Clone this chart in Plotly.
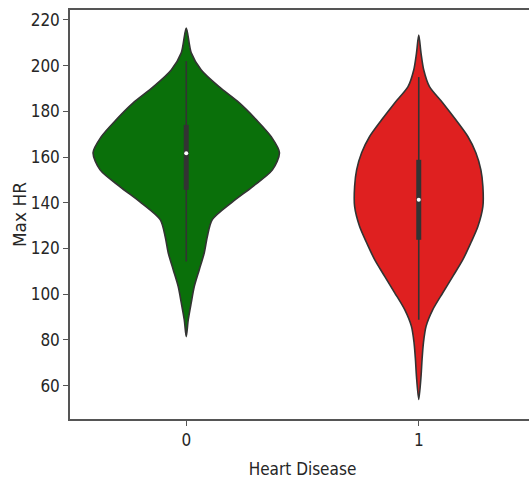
import plotly.graph_objects as go

# ---- data ----
categories = [0, 1]
colors = ["#0a700a", "#df2020"]

# violin profiles: value levels and half-widths (category units)
green_levels = [216.5, 205.6, 198.1, 190.7, 183.7, 176.3, 168.8, 161.9, 154.4, 147.0,
                140.0, 132.6, 125.1, 118.1, 110.7, 103.3, 96.3, 88.8, 81.4]
green_halfw_px = [0, 5, 15, 33, 53, 70, 85, 93, 86, 66, 45, 26, 21, 18, 13, 8, 5, 2, 0]

red_levels = [213.4, 205.4, 198.1, 190.8, 183.7, 176.3, 169.0, 161.9, 154.4, 147.1, 138.4,
              129.6, 122.5, 115.1, 107.8, 100.6, 93.2, 85.9, 78.8, 71.4, 64.1, 53.9]
red_halfw_px = [0, 2.3, 5, 10.7, 24, 37, 49, 57, 62, 64, 64, 59, 52, 44, 34, 24, 14, 7.3,
                4.7, 3.3, 2.3, 0]

# box stats: q1, median, q3, whisker low, whisker high
q1 = [145.7, 123.8]
median = [161.7, 141.3]
q3 = [174.1, 158.8]
whisk_lo = [114.3, 88.8]
whisk_hi = [202.0, 195.0]

y_ticks = [60, 80, 100, 120, 140, 160, 180, 200, 220]

PX_PER_CAT = 232.0
profiles = [(green_levels, [w / PX_PER_CAT for w in green_halfw_px]),
            (red_levels, [w / PX_PER_CAT for w in red_halfw_px])]

fig = go.Figure()
edge = "#333333"
for i, (lv, hw) in enumerate(profiles):
    c = categories[i]
    xs = [c + w for w in hw] + [c - w for w in reversed(hw)][1:]
    ys = list(lv) + list(reversed(lv))[1:]
    fig.add_trace(go.Scatter(x=xs, y=ys, mode="lines", fill="toself",
                             fillcolor=colors[i],
                             line=dict(color=edge, width=1.6, shape="spline", smoothing=0.8),
                             hoverinfo="skip", showlegend=False))
    fig.add_trace(go.Scatter(x=[c, c], y=[whisk_lo[i], whisk_hi[i]], mode="lines",
                             line=dict(color=edge, width=1.6), showlegend=False))
    fig.add_trace(go.Scatter(x=[c, c], y=[q1[i], q3[i]], mode="lines",
                             line=dict(color=edge, width=5), showlegend=False))
    fig.add_trace(go.Scatter(x=[c], y=[median[i]], mode="markers",
                             marker=dict(color="white", size=4), showlegend=False))

tick_font = dict(family="Liberation Sans Narrow, DejaVu Sans Condensed, Arial Narrow, sans-serif",
                 size=17, color="#262626")
fig.update_layout(
    width=535, height=483,
    margin=dict(l=70, r=0, t=10, b=64),
    plot_bgcolor="white", paper_bgcolor="white",
    xaxis=dict(range=[-0.5, 1.5], tickvals=categories, ticktext=[str(c) for c in categories],
               showgrid=False, zeroline=False, showline=True, linecolor="#555555", linewidth=1.5,
               mirror=True, ticks="outside", ticklen=5, tickcolor="#555555",
               tickfont=tick_font, automargin=False,
               title=dict(text="Heart Disease", font=tick_font, standoff=14)),
    yaxis=dict(range=[45.36, 224.37], tickvals=y_ticks, showgrid=False, zeroline=False,
               showline=True, linecolor="#555555", linewidth=1.5, ticks="outside", ticklen=5,
               tickcolor="#555555", tickfont=tick_font, automargin=False, mirror=False,
               title=dict(text="Max HR", font=dict(family="DejaVu Sans", size=17, color="#262626"),
                          standoff=0)),
)
fig.write_html("out.html", config={"displayModeBar": False},
               post_script="document.body.style.margin='0';document.body.style.overflow='hidden';")
